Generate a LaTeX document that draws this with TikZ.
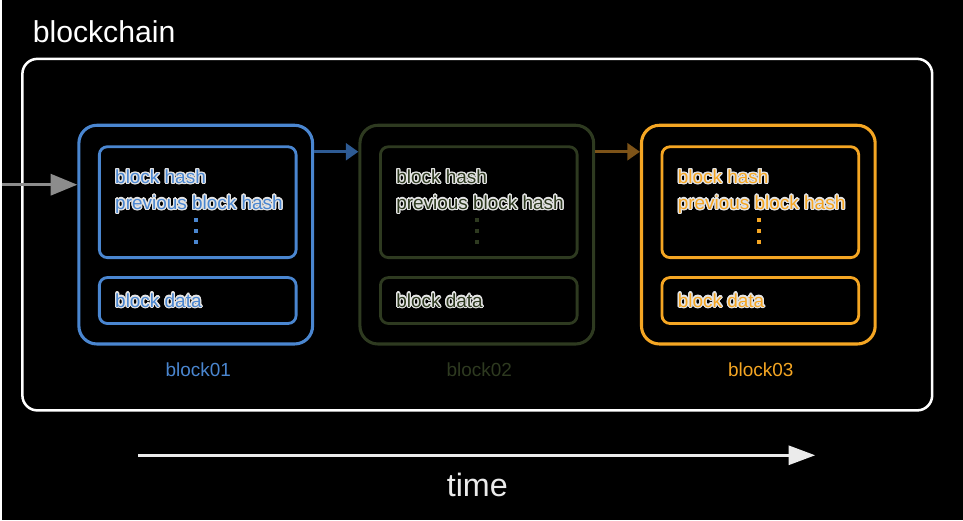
\documentclass[tikz,border=0pt]{standalone}
\usepackage{xcolor}
\usepackage{fontspec}
\setmainfont{Liberation Sans}
\usepackage{contour}
\usepackage{tikz}
\usetikzlibrary{positioning, arrows.meta, calc}
\definecolor{chainblue}{HTML}{4A86D0}
\definecolor{chainolive}{HTML}{2E3A20}
\definecolor{chainorange}{HTML}{F5A623}
\definecolor{linkblue}{HTML}{2E5B94}
\definecolor{linkbrown}{HTML}{7D5318}
\definecolor{feedgray}{HTML}{8C8C8C}
\definecolor{glowwhite}{HTML}{E4E4E4}
\definecolor{timewhite}{HTML}{EBEBEB}
\contourlength{0.9pt}
\contournumber{16}
\newcommand{\glowtext}[1]{\contour{glowwhite}{#1}}

\begin{document}
\begin{tikzpicture}[x=0.025cm, y=-0.025cm,
    font=\fontsize{13.5}{16}\selectfont,
    blockbox/.style={draw=#1, line width=2.2pt, rounded corners=0.45cm,
        minimum width=5.85cm, minimum height=5.475cm},
    fieldbox/.style={draw=#1, line width=2pt, rounded corners=0.2cm,
        minimum width=4.925cm},
    link/.style={draw=#1, line width=2.2pt, -{Triangle[length=9pt, width=12pt]}}]
    \fill[black] (0,0) rectangle (963,521);
    \node[anchor=base west, text=white, inner sep=0pt,
          font=\fontsize{21.5}{24}\selectfont] (title) at (31,43) {blockchain};
    \node[draw=white, line width=1.8pt, rounded corners=0.375cm,
          minimum width=22.775cm, minimum height=8.8cm] (chain) at (476.5,235) {};
    \foreach \n/\cx/\col in {01/194.5/chainblue, 02/476/chainolive, 03/758/chainorange}{
        \node[blockbox=\col] (block\n) at (\cx,235) {};
        \node[fieldbox=\col, minimum height=2.775cm] (head\n) at (\cx+2,202.5) {};
        \node[fieldbox=\col, minimum height=1.15cm] (data\n) at (\cx+2,301) {};
        \node[anchor=base west, text=\col, inner sep=0pt] (hash\n)
            at ($(head\n.north west)+(17,38)$) {\glowtext{block hash}};
        \node[anchor=base west, text=\col, inner sep=0pt] (prev\n)
            at ($(head\n.north west)+(17,64)$) {\glowtext{previous block hash}};
        \node[anchor=base west, text=\col, inner sep=0pt] (body\n)
            at ($(data\n.north west)+(17,31)$) {\glowtext{block data}};
        \foreach \dy in {16,27,38}
            \fill[\col] ($(head\n.center)+(-3.5,\dy)$) rectangle +(4,4);
        \node[anchor=base, text=\col, inner sep=0pt] (label\n)
            at ($(block\n.south)+(2.5,31)$) {block\n};
    }
    \coordinate (feed) at (0,185);
    \coordinate (linky) at (0,152);
    \draw[link=feedgray, -{Triangle[length=19pt, width=15pt]}] (feed) -- (feed -| block01.west);
    \draw[link=linkblue] (block01.east |- linky) -- (block02.west |- linky);
    \draw[link=linkbrown] (block02.east |- linky) -- (block03.west |- linky);
    \coordinate (t0) at (137,456);
    \coordinate (t1) at (815,456);
    \draw[link=timewhite, -{Triangle[length=19pt, width=13.5pt]}] (t0) -- (t1);
    \node[anchor=base, text=timewhite, inner sep=0pt,
          font=\fontsize{23}{26}\selectfont] (time) at (476.5,497) {time};
\end{tikzpicture}
\end{document}
